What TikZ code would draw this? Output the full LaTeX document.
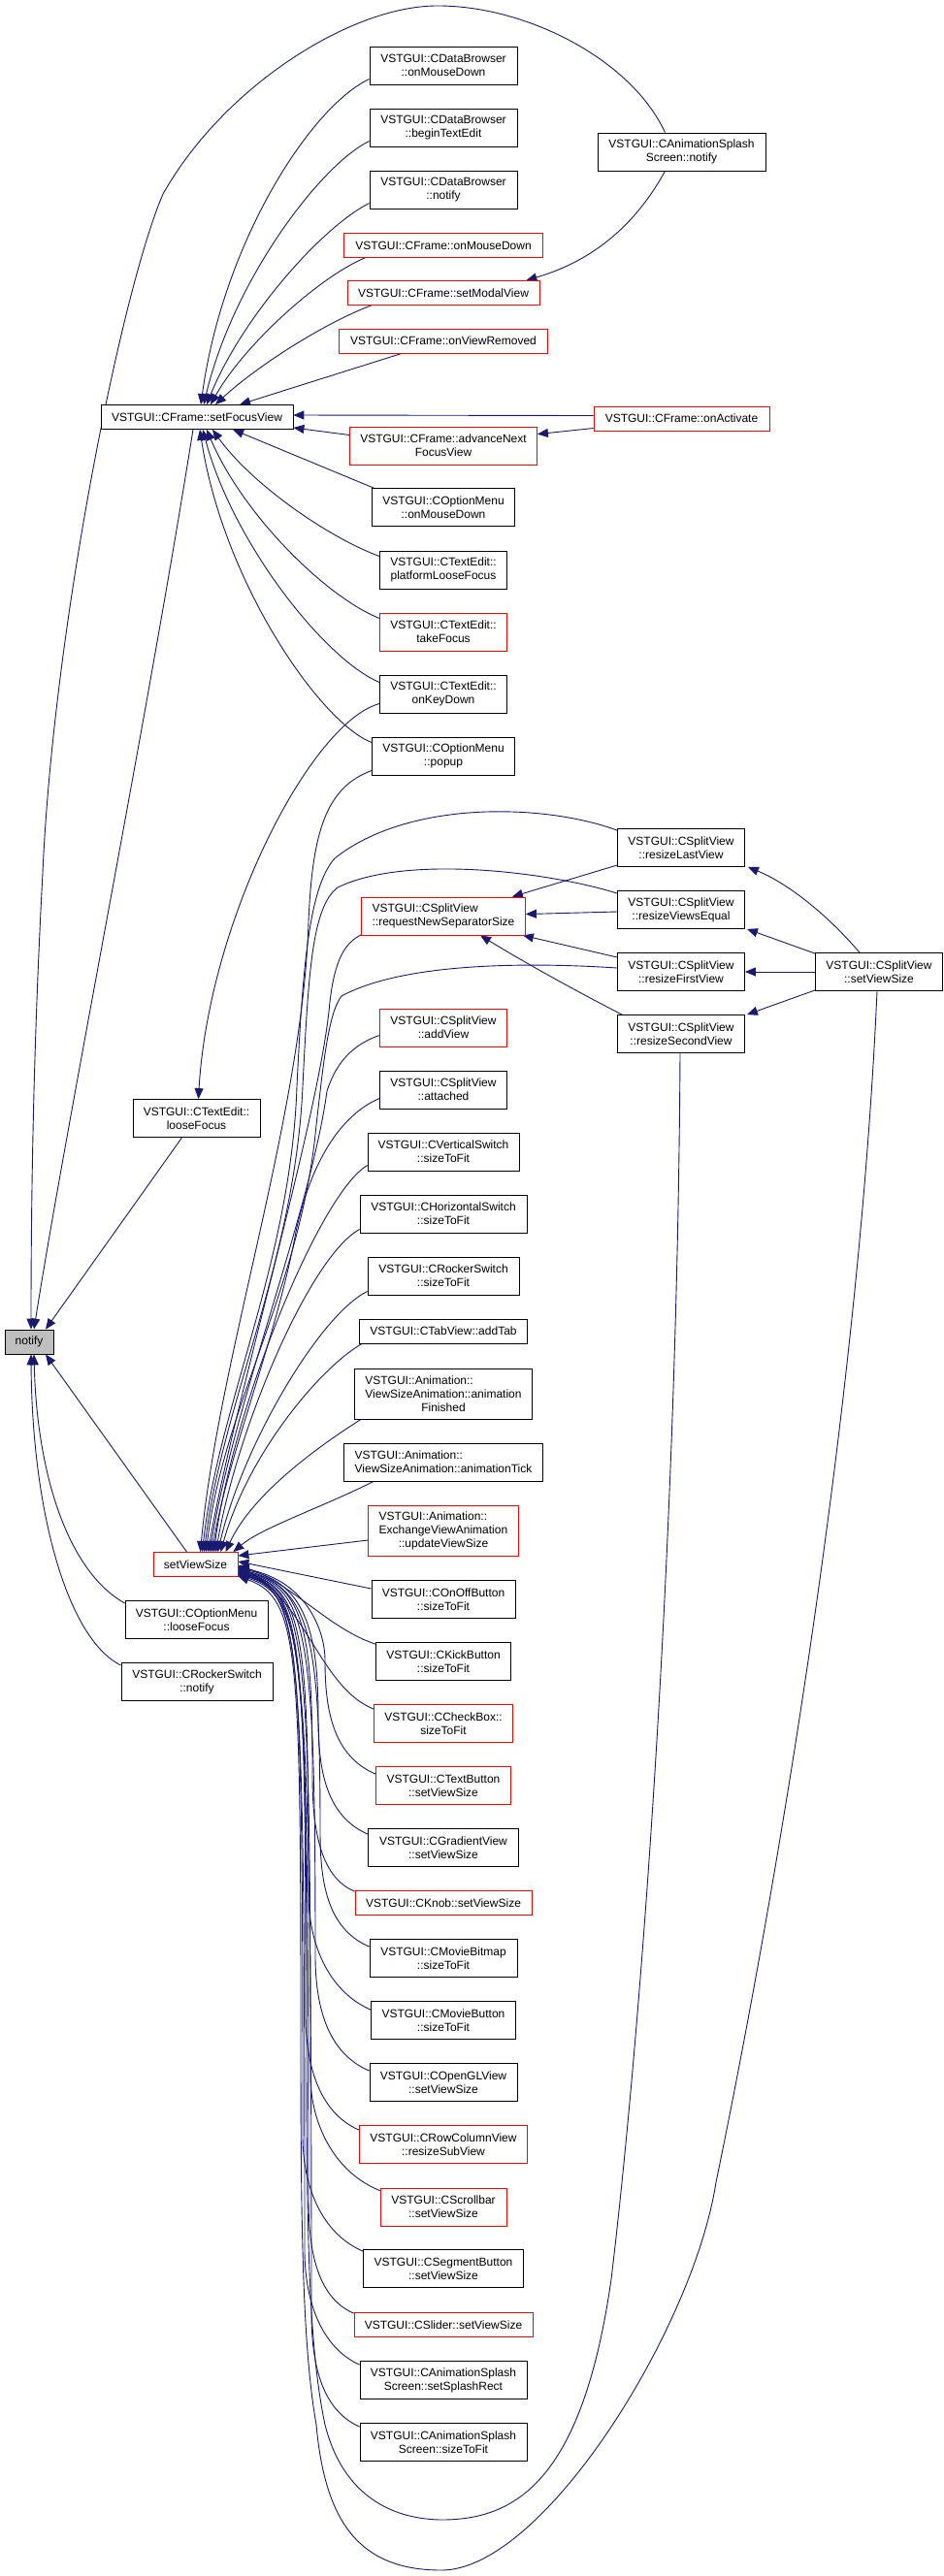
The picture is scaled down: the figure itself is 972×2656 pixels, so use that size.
\documentclass[tikz,border=0pt]{standalone}
\usepackage{fontspec}
\setmainfont{Liberation Sans}
\usetikzlibrary{arrows.meta,calc,backgrounds}
\definecolor{edgeblue}{HTML}{191970}
\definecolor{nodegray}{HTML}{BFBFBF}
\definecolor{nodered}{HTML}{FF0000}
\newlength\lnw
\newcommand{\leftln}[2]{\settowidth{\lnw}{#2}\makebox[\lnw][l]{#1}}
\begin{document}
\begin{tikzpicture}[x=1pt,y=-1pt,
  box/.style={draw=black,line width=0.8pt,fill=white,inner sep=0pt,align=center,
    font=\fontsize{12pt}{14pt}\selectfont,minimum height=39pt},
  one/.style={minimum height=25pt},
  three/.style={minimum height=52pt},
  redbox/.style={draw=nodered},
  edge/.style={draw=edgeblue,line width=0.9pt,-{Triangle[length=11pt,width=9pt]}}]
\useasboundingbox (0,0) rectangle (972,2656);
% ---- column A
\node[box,one,fill=nodegray,minimum width=50pt] (notify) at (30,1383.5) {notify};
\node[box,one,minimum width=198pt] (sfv) at (203,430) {VSTGUI::CFrame::setFocusView};
\node[box,minimum width=131pt] (ltf) at (202.5,1153) {VSTGUI::CTextEdit::\\looseFocus};
\node[box,one,redbox,minimum width=87pt] (svs) at (201.5,1613) {setViewSize};
\node[box,minimum width=147pt] (omlf) at (202.5,1670) {VSTGUI::COptionMenu\\::looseFocus};
\node[box,minimum width=156pt] (rsn) at (203,1734) {VSTGUI::CRockerSwitch\\::notify};
% ---- column B
\node[box,minimum width=152pt] (dbmd) at (457,67.5) {VSTGUI::CDataBrowser\\::onMouseDown};
\node[box,minimum width=152pt] (dbbte) at (457,131.5) {VSTGUI::CDataBrowser\\::beginTextEdit};
\node[box,minimum width=152pt] (dbn) at (457,195.5) {VSTGUI::CDataBrowser\\::notify};
\node[box,one,redbox,minimum width=205pt] (fmd) at (457,253) {VSTGUI::CFrame::onMouseDown};
\node[box,one,redbox,minimum width=198pt] (fsmv) at (457,302) {VSTGUI::CFrame::setModalView};
\node[box,one,redbox,minimum width=215pt] (fovr) at (457,351.5) {VSTGUI::CFrame::onViewRemoved};
\node[box,redbox,minimum width=193pt] (fanf) at (457,459.5) {VSTGUI::CFrame::advanceNext\\FocusView};
\node[box,minimum width=147pt] (omd) at (457,523) {VSTGUI::COptionMenu\\::onMouseDown};
\node[box,minimum width=131pt] (tplf) at (457,587.5) {VSTGUI::CTextEdit::\\platformLooseFocus};
\node[box,redbox,minimum width=131pt] (ttf) at (457,651.5) {VSTGUI::CTextEdit::\\takeFocus};
\node[box,minimum width=131pt] (tokd) at (457,715.5) {VSTGUI::CTextEdit::\\onKeyDown};
\node[box,minimum width=147pt] (omp) at (457,779.5) {VSTGUI::COptionMenu\\::popup};
\node[box,redbox,align=left,minimum width=169pt] (rnss) at (457,944.5) {VSTGUI::CSplitView\\::requestNewSeparatorSize};
\node[box,redbox,minimum width=131pt] (sav) at (457,1059.5) {VSTGUI::CSplitView\\::addView};
\node[box,minimum width=131pt] (sat) at (457,1123.5) {VSTGUI::CSplitView\\::attached};
\node[box,minimum width=156pt] (vs) at (457,1187.5) {VSTGUI::CVerticalSwitch\\::sizeToFit};
\node[box,minimum width=172pt] (hs) at (457,1251.5) {VSTGUI::CHorizontalSwitch\\::sizeToFit};
\node[box,minimum width=156pt] (rs) at (457,1315.5) {VSTGUI::CRockerSwitch\\::sizeToFit};
\node[box,one,minimum width=173pt] (tab) at (457,1372.5) {VSTGUI::CTabView::addTab};
\node[box,three,minimum width=183pt] (vsaf) at (457,1437) {\leftln{VSTGUI::Animation::}{ViewSizeAnimation::animation}\\ViewSizeAnimation::animation\\Finished};
\node[box,align=left,minimum width=205pt] (vsat) at (457,1507.5) {VSTGUI::Animation::\\ViewSizeAnimation::animationTick};
\node[box,three,redbox,minimum width=155pt] (evu) at (457,1578) {\leftln{VSTGUI::Animation::}{ExchangeViewAnimation}\\ExchangeViewAnimation\\::updateViewSize};
\node[box,minimum width=148pt] (oob) at (457,1649) {VSTGUI::COnOffButton\\::sizeToFit};
\node[box,minimum width=139pt] (kb) at (457,1713) {VSTGUI::CKickButton\\::sizeToFit};
\node[box,redbox,minimum width=143pt] (cb) at (457,1777) {VSTGUI::CCheckBox::\\sizeToFit};
\node[box,redbox,minimum width=139pt] (tb) at (457,1841) {VSTGUI::CTextButton\\::setViewSize};
\node[box,minimum width=155pt] (gv) at (457,1905) {VSTGUI::CGradientView\\::setViewSize};
\node[box,one,redbox,minimum width=182pt] (kn) at (457,1962) {VSTGUI::CKnob::setViewSize};
\node[box,minimum width=152pt] (mbm) at (457,2019) {VSTGUI::CMovieBitmap\\::sizeToFit};
\node[box,minimum width=149pt] (mbt) at (457,2083) {VSTGUI::CMovieButton\\::sizeToFit};
\node[box,minimum width=152pt] (ogl) at (457,2147) {VSTGUI::COpenGLView\\::setViewSize};
\node[box,redbox,minimum width=173pt] (rcv) at (457,2211) {VSTGUI::CRowColumnView\\::resizeSubView};
\node[box,redbox,minimum width=130pt] (sb) at (457,2275.5) {VSTGUI::CScrollbar\\::setViewSize};
\node[box,minimum width=165pt] (sgb) at (457,2339) {VSTGUI::CSegmentButton\\::setViewSize};
\node[box,one,redbox,minimum width=184pt] (sl) at (457,2397) {VSTGUI::CSlider::setViewSize};
\node[box,minimum width=172pt] (asr) at (457,2454) {VSTGUI::CAnimationSplash\\Screen::setSplashRect};
\node[box,minimum width=172pt] (ast) at (457,2518) {VSTGUI::CAnimationSplash\\Screen::sizeToFit};
% ---- column C
\node[box,minimum width=173pt] (asn) at (702.5,156.5) {VSTGUI::CAnimationSplash\\Screen::notify};
\node[box,one,redbox,minimum width=181pt] (fact) at (702.5,431.5) {VSTGUI::CFrame::onActivate};
\node[box,minimum width=131pt] (rlv) at (702,874) {VSTGUI::CSplitView\\::resizeLastView};
\node[box,minimum width=131pt] (rve) at (702,938) {VSTGUI::CSplitView\\::resizeViewsEqual};
\node[box,minimum width=131pt] (rfv) at (702,1002) {VSTGUI::CSplitView\\::resizeFirstView};
\node[box,minimum width=131pt] (rsv) at (702,1066) {VSTGUI::CSplitView\\::resizeSecondView};
% ---- column D
\node[box,minimum width=131pt] (ssvs) at (906,1002) {VSTGUI::CSplitView\\::setViewSize};

\begin{scope}[on background layer]
\fill[white] (0,0) rectangle (972,2656);
% ---- into notify
\draw[edge] ($(asn.north)+(-17,0)$) .. controls (650,60) and (540,5) .. (449,6) .. controls (360,7) and (230,90) .. (168,200) .. controls (125,300) and (55,650) .. (44,900) .. controls (36,1050) and (32,1200) .. ($(notify.north)+(2,0)$);
\draw[edge] ($(sfv.south)+(-4,0)$) .. controls (150,750) and (70,1150) .. ($(notify.north)+(5,0)$);
\draw[edge] ($(ltf.south)+(-15,0)$) -- ($(notify.north)+(17,0)$);
\draw[edge] ($(svs.north)+(-9,0)$) -- ($(notify.south)+(17,0)$);
\draw[edge] ($(omlf.west)+(0,-17)$) .. controls (70,1620) and (38,1520) .. ($(notify.south)+(5,0)$);
\draw[edge] ($(rsn.west)+(0,-17)$) .. controls (70,1690) and (33,1560) .. ($(notify.south)+(2,0)$);
% ---- into setFocusView
\draw[edge] ($(dbmd.west)+(0,14)$) .. controls (320,110) and (230,250) .. ($(sfv.north)+(4,0)$);
\draw[edge] ($(dbbte.west)+(0,14)$) .. controls (330,170) and (240,290) .. ($(sfv.north)+(7,0)$);
\draw[edge] ($(dbn.west)+(0,14)$) .. controls (330,235) and (248,330) .. ($(sfv.north)+(10,0)$);
\draw[edge] ($(fmd.south west)+(22,0)$) .. controls (330,285) and (252,355) .. ($(sfv.north)+(14,0)$);
\draw[edge] ($(fsmv.south west)+(25,0)$) .. controls (330,335) and (262,380) .. ($(sfv.north)+(19,0)$);
\draw[edge] ($(fovr.south west)+(65,0)$) -- ($(sfv.north)+(44,0)$);
\draw[edge] ($(fact.west)+(0,-3)$) -- ($(sfv.east)+(0,-2)$);
\draw[edge] ($(fanf.west)+(0,-11)$) -- ($(sfv.east)+(0,11)$);
\draw[edge] ($(fact.west)+(0,10)$) -- ($(fanf.north east)+(0,8)$);
\draw[edge] ($(asn.south)+(-17,0)$) .. controls (645,250) and (590,275) .. ($(fsmv.north east)+(-14,0)$);
\draw[edge] ($(omd.north west)+(2,0)$) -- ($(sfv.south)+(37,0)$);
\draw[edge] ($(tplf.west)+(0,-14)$) .. controls (340,555) and (260,500) .. ($(sfv.south)+(16,0)$);
\draw[edge] ($(ttf.west)+(0,-14)$) .. controls (335,615) and (250,530) .. ($(sfv.south)+(10,0)$);
\draw[edge] ($(tokd.west)+(0,-12)$) .. controls (335,680) and (240,560) .. ($(sfv.south)+(6,0)$);
\draw[edge] ($(omp.west)+(0,-14)$) .. controls (330,745) and (230,600) .. ($(sfv.south)+(3,0)$);
\draw[edge] ($(tokd.west)+(0,10)$) .. controls (320,745) and (215,950) .. ($(ltf.north)+(2,0)$);
% ---- split view group
\draw[edge] ($(rlv.west)+(0,18)$) -- ($(rnss.north east)+(-14,0)$);
\draw[edge] ($(rve.west)+(0,2)$) -- ($(rnss.east)+(0,-2)$);
\draw[edge] ($(rfv.west)+(0,-15)$) -- ($(rnss.south east)+(-3,0)$);
\draw[edge] ($(rsv.north west)+(5,0)$) .. controls (600,1025) and (545,995) .. ($(rnss.south)+(38,0)$);
\draw[edge] ($(ssvs.north)+(-20,0)$) .. controls (850,940) and (810,910) .. ($(rlv.south east)+(3,0)$);
\draw[edge] ($(ssvs.north west)+(0,1)$) -- ($(rve.south east)+(2,0)$);
\draw[edge] (ssvs.west) -- (rfv.east);
\draw[edge] ($(ssvs.south west)+(0,-1)$) -- ($(rsv.north east)+(2,0)$);
% ---- into setViewSize from above
\draw[edge] ($(omp.west)+(0,15)$) .. controls (335,812) and (322,860) .. (318,950) .. controls (312,1150) and (225,1400) .. ($(svs.north)+(5,0)$);
\draw[edge] ($(rlv.north west)+(0,2)$) .. controls (560,828) and (420,825) .. (345,885) .. controls (318,915) and (312,1000) .. (306,1120) .. controls (300,1300) and (225,1450) .. ($(svs.north)+(7,0)$);
\draw[edge] ($(rve.north west)+(0,3)$) .. controls (570,900) and (420,880) .. (348,915) .. controls (322,935) and (318,1000) .. (312,1120) .. controls (304,1300) and (228,1450) .. ($(svs.north)+(9,0)$);
\draw[edge] ($(rfv.west)+(0,-4)$) .. controls (560,993) and (420,990) .. (352,1027) .. controls (338,1045) and (333,1100) .. (326,1160) .. controls (310,1330) and (230,1450) .. ($(svs.north)+(11,0)$);
\draw[edge] ($(rnss.south west)+(1,-1)$) .. controls (355,972) and (345,990) .. (340,1033) .. controls (330,1150) and (240,1450) .. ($(svs.north)+(13,0)$);
\draw[edge] ($(sav.west)+(0,8)$) .. controls (360,1078) and (345,1100) .. (337,1125) .. controls (320,1250) and (240,1450) .. ($(svs.north)+(15,0)$);
\draw[edge] ($(sat.west)+(0,9)$) .. controls (350,1150) and (320,1200) .. (305,1270) .. controls (285,1380) and (235,1500) .. ($(svs.north)+(17,0)$);
\draw[edge] ($(vs.west)+(0,14)$) .. controls (330,1230) and (240,1450) .. ($(svs.north)+(19,0)$);
\draw[edge] ($(hs.west)+(0,16)$) .. controls (320,1295) and (245,1470) .. ($(svs.north)+(21,0)$);
\draw[edge] ($(rs.west)+(0,16)$) .. controls (330,1355) and (250,1490) .. ($(svs.north)+(23,0)$);
\draw[edge] ($(tab.south west)+(3,0)$) .. controls (330,1410) and (255,1500) .. ($(svs.north)+(26,0)$);
\draw[edge] ($(vsaf.south west)+(7,0)$) .. controls (330,1490) and (260,1540) .. ($(svs.north)+(31,0)$);
\draw[edge] ($(vsat.south west)+(31,0)$) .. controls (330,1555) and (270,1575) .. ($(svs.north east)+(-5,0)$);
% ---- into setViewSize from the right / below
\draw[edge] ($(evu.west)+(0,10)$) -- ($(svs.east)+(0,-9)$);
\draw[edge] ($(oob.west)+(0,-11)$) -- ($(svs.east)+(0,-3)$);
\draw[edge] ($(kb.north west)+(0,2)$) .. controls (340,1680) and (300,1632) .. ($(svs.east)+(0,1)$);
\draw[edge] ($(cb.north west)+(0,5)$) .. controls (330,1740) and (315,1650) .. ($(svs.east)+(0,2)$);
\draw[edge] ($(tb.north west)+(0,8)$) .. controls (342,1810) and (335,1760) .. (335,1712) .. controls (335,1680) and (315,1630) .. ($(svs.east)+(0,3)$);
\draw[edge] ($(gv.north west)+(0,6)$) .. controls (335,1872) and (328,1822) .. (328,1772) .. controls (328,1690) and (318,1632) .. ($(svs.east)+(0,4)$);
\draw[edge] ($(kn.north west)+(0,1)$) .. controls (328,1935) and (322,1880) .. (322,1830) .. controls (322,1690) and (316,1634) .. ($(svs.east)+(0,5)$);
\draw[edge] ($(mbm.north west)+(0,8)$) .. controls (336,1988) and (330,1938) .. (330,1888) .. controls (330,1690) and (320,1636) .. ($(svs.east)+(0,6)$);
\draw[edge] ($(mbt.north west)+(0,9)$) .. controls (338,2053) and (318,2003) .. (318,1953) .. controls (318,1690) and (314,1638) .. ($(svs.east)+(0,7)$);
\draw[edge] ($(ogl.north west)+(0,8)$) .. controls (336,2116) and (325,2066) .. (325,2016) .. controls (325,1690) and (318,1636) .. ($(svs.east)+(0,7)$);
\draw[edge] ($(rcv.north west)+(0,5)$) .. controls (328,2178) and (315,2127) .. (315,2077) .. controls (315,1690) and (312,1640) .. ($(svs.east)+(0,8)$);
\draw[edge] ($(sb.north west)+(0,3)$) .. controls (345,2240) and (320,2190) .. (320,2140) .. controls (320,1690) and (315,1638) .. ($(svs.east)+(0,8)$);
\draw[edge] ($(sgb.north west)+(0,2)$) .. controls (330,2302) and (312,2252) .. (312,2202) .. controls (312,1690) and (310,1642) .. ($(svs.east)+(0,9)$);
\draw[edge] ($(sl.north west)+(0,1)$) .. controls (325,2368) and (318,2316) .. (318,2266) .. controls (318,1690) and (313,1640) .. ($(svs.east)+(0,9)$);
\draw[edge] ($(asr.north west)+(0,4)$) .. controls (330,2420) and (314,2370) .. (314,2320) .. controls (314,1690) and (311,1642) .. ($(svs.east)+(0,10)$);
\draw[edge] ($(ast.north west)+(0,4)$) .. controls (330,2484) and (321,2434) .. (321,2384) .. controls (321,1690) and (314,1640) .. ($(svs.east)+(0,10)$);
% ---- the two long U-shaped edges
\draw[edge] ($(rsv.south)+(-1,0)$) .. controls (698,1600) and (660,2100) .. (630,2350) .. controls (600,2560) and (530,2598) .. (455,2598) .. controls (390,2597) and (350,2560) .. (335,2500) .. controls (318,2420) and (316,2300) .. (316,2100) .. controls (316,1700) and (312,1645) .. ($(svs.east)+(0,11)$);
\draw[edge] ($(ssvs.south)+(-2,0)$) .. controls (885,1450) and (800,1950) .. (738,2250) .. controls (715,2400) and (560,2650) .. (455,2650) .. controls (370,2650) and (335,2600) .. (326,2500) .. controls (312,2420) and (310,2300) .. (310,2100) .. controls (310,1700) and (308,1648) .. ($(svs.east)+(0,12)$);
\end{scope}
\end{tikzpicture}
\end{document}
